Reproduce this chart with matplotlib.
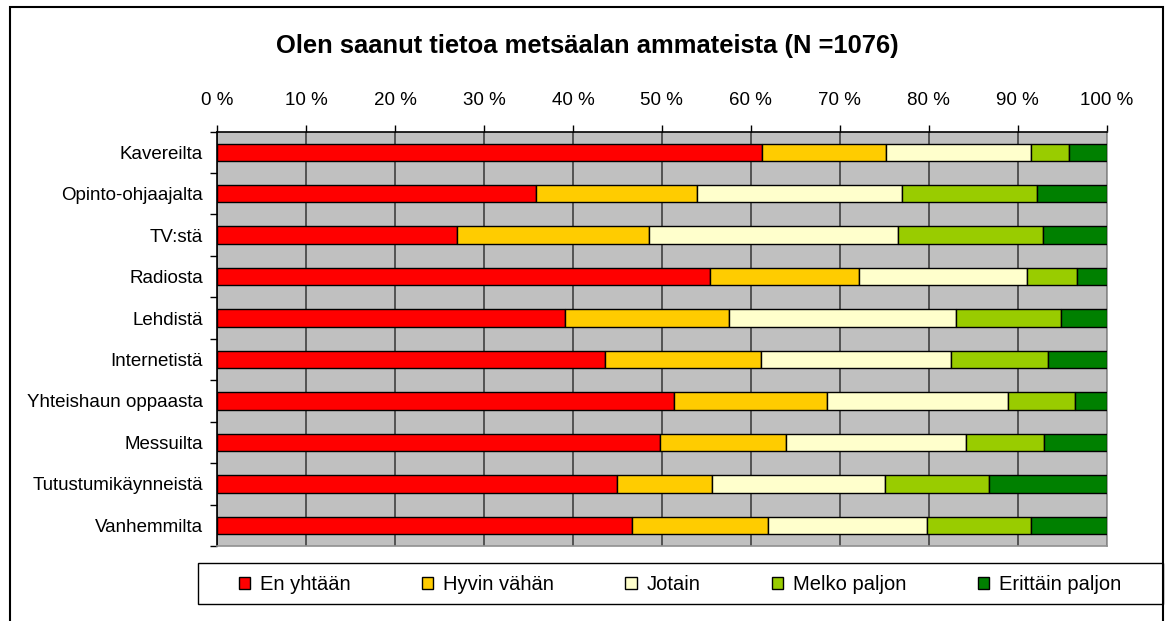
import matplotlib
matplotlib.use("Agg")
import matplotlib.pyplot as plt
from matplotlib.patches import Rectangle, Patch
import numpy as np

plt.rcParams['font.family'] = ['Liberation Sans', 'DejaVu Sans']

title = "Olen saanut tietoa metsäalan ammateista (N =1076)"
categories = ["Kavereilta", "Opinto-ohjaajalta", "TV:stä", "Radiosta", "Lehdistä",
              "Internetistä", "Yhteishaun oppaasta", "Messuilta",
              "Tutustumikäynneistä", "Vanhemmilta"]
series_names = ["En yhtään", "Hyvin vähän", "Jotain", "Melko paljon", "Erittäin paljon"]
colors = ["#FF0000", "#FFCC00", "#FFFFCC", "#99CC00", "#008000"]

en_yhtaan      = [61.3, 35.8, 27.0, 55.4, 39.1, 43.6, 51.4, 49.8, 45.0, 46.7]
hyvin_vahan    = [13.9, 18.2, 21.5, 16.8, 18.5, 17.6, 17.2, 14.1, 10.6, 15.2]
jotain         = [16.3, 23.0, 28.0, 18.8, 25.5, 21.3, 20.3, 20.3, 19.5, 17.9]
melko_paljon   = [4.3, 15.2, 16.3, 5.7, 11.8, 10.9, 7.5, 8.8, 11.7, 11.7]
erittain_paljon = [4.2, 7.8, 7.2, 3.3, 5.1, 6.6, 3.6, 7.0, 13.2, 8.5]

data = [en_yhtaan, hyvin_vahan, jotain, melko_paljon, erittain_paljon]

W, H = 1167, 621
fig = plt.figure(figsize=(W / 100, H / 100), dpi=100)
left, right, top, bottom = 217, 1106.7, 131.5, 546
ax = fig.add_axes([left / W, 1 - bottom / H, (right - left) / W, (bottom - top) / H])
ax.set_facecolor("#C0C0C0")

y = np.arange(len(categories))
cum = np.zeros(len(categories))
for vals, name, c in zip(data, series_names, colors):
    vals = np.array(vals)
    ax.barh(y, vals, left=cum, height=0.42, color=c, edgecolor="black",
            linewidth=1.0, label=name, zorder=3)
    cum += vals

ax.set_xlim(0, 100)
ax.set_ylim(len(categories) - 0.5, -0.5)
ax.xaxis.tick_top()
ax.set_xticks(np.arange(0, 101, 10))
ax.set_xticklabels([f"{v} %" for v in range(0, 101, 10)])
ax.tick_params(axis="x", direction="out", length=5, width=1, pad=11, labelsize=13.5)
ax.set_yticks(y)
ax.set_yticklabels(categories)
ax.tick_params(axis="y", which="major", length=0, pad=10, labelsize=13.5)
ax.set_yticks(np.arange(-0.5, len(categories) + 0.5, 1), minor=True)
ax.tick_params(axis="y", which="minor", direction="out", length=5, width=1)
ax.grid(axis="x", color="#4a4a4a", linewidth=1.3, zorder=1)
ax.set_axisbelow(True)
for s in ["left", "top"]:
    ax.spines[s].set_color("black")
    ax.spines[s].set_linewidth(1.2)
for s in ["right", "bottom"]:
    ax.spines[s].set_color("#909090")
    ax.spines[s].set_linewidth(1.2)

fig.text(587 / W, 1 - 46 / H, title, ha="center", va="center",
         fontsize=18.4, fontweight="bold")

# legend frame
lx0, lx1, ly0, ly1 = 198, 1163, 563, 604
fig.patches.append(Rectangle((lx0 / W, 1 - ly1 / H), (lx1 - lx0) / W, (ly1 - ly0) / H,
                             transform=fig.transFigure, fill=False,
                             edgecolor="black", linewidth=1.0))
handles = [Patch(facecolor=c, edgecolor="black", linewidth=1.0) for c in colors]
leg = fig.legend(handles, series_names, loc="center", ncol=5,
                 bbox_to_anchor=(680 / W, 1 - 585 / H),
                 frameon=False, fontsize=14.5,
                 handlelength=0.55, handleheight=0.55, handletextpad=0.5,
                 columnspacing=3.55, borderaxespad=0, borderpad=0)

fig.patches.append(Rectangle((10 / W, -0.05), (1163 - 10) / W, 1.05 - 7 / H,
                             transform=fig.transFigure, fill=False,
                             edgecolor="black", linewidth=1.5))

fig.savefig("out.png", dpi=100)
